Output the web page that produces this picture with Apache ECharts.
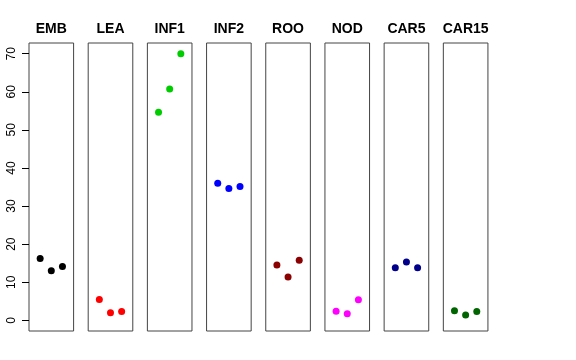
<!DOCTYPE html>
<html>
<head>
<meta charset="utf-8">
<script src="https://cdn.jsdelivr.net/npm/echarts@6/dist/echarts.min.js"></script>
<style>html,body{margin:0;padding:0;background:#fff}#c{width:576px;height:360px}</style>
</head>
<body>
<div id="c"></div>
<script>
const categories = ['EMB','LEA','INF1','INF2','ROO','NOD','CAR5','CAR15'];
const colors = ['#000000','#FF0000','#00CD00','#0000FF','#8B0000','#FF00FF','#00008B','#006400'];
const EMB = [16.2, 13.0, 14.1];
const LEA = [5.5, 2.0, 2.3];
const INF1 = [54.6, 60.7, 70.0];
const INF2 = [36.0, 34.6, 35.1];
const ROO = [14.5, 11.4, 15.8];
const NOD = [2.4, 1.7, 5.4];
const CAR5 = [13.8, 15.3, 13.8];
const CAR15 = [2.5, 1.4, 2.3];
const seriesValues = [EMB, LEA, INF1, INF2, ROO, NOD, CAR5, CAR15];
const replicates = [1, 2, 3];
const yTicks = [0, 10, 20, 30, 40, 50, 60, 70];

(function () {
const chart = echarts.init(document.getElementById('c'), null, {renderer: 'canvas'});
const FONT = 'Liberation Sans, Arial, Helvetica, sans-serif';
const left0 = 29, pitch = 59.19, pw = 44.6, ptop = 43, ph = 288;
const grids = [], xAxes = [], yAxes = [], series = [], graphics = [];
categories.forEach((cat, i) => {
  const l = left0 + i * pitch;
  grids.push({left: l, top: ptop, width: pw, height: ph, show: true, borderColor: '#444', borderWidth: 1,
              backgroundColor: 'transparent', containLabel: false, outerBoundsMode: 'none'});
  xAxes.push({type: 'value', gridIndex: i, min: 0, max: 4, show: false});
  yAxes.push({type: 'value', gridIndex: i, min: -2.8, max: 72.8, show: i === 0,
    splitLine: {show: false}, axisLine: {show: false},
    axisTick: {show: i === 0, length: 7, inside: false, lineStyle: {color: '#000'}, customValues: yTicks},
    axisLabel: {show: i === 0, rotate: 90, margin: 11, color: '#000', fontSize: 12, fontFamily: FONT, customValues: yTicks}
  });
  series.push({type: 'scatter', xAxisIndex: i, yAxisIndex: i, symbol: 'circle', symbolSize: 7,
    itemStyle: {color: colors[i], opacity: 1}, silent: true, animation: false,
    data: replicates.map((x, j) => [x, seriesValues[i][j]])});
  graphics.push({type: 'text', x: l + pw / 2, y: 29,
    style: {text: cat, textAlign: 'center', textVerticalAlign: 'middle', fontSize: 14, fontWeight: 'bold', fontFamily: FONT, fill: '#000'}});
});
chart.setOption({animation: false, grid: grids, xAxis: xAxes, yAxis: yAxes, series: series, graphic: graphics});
})();
</script>
</body>
</html>
